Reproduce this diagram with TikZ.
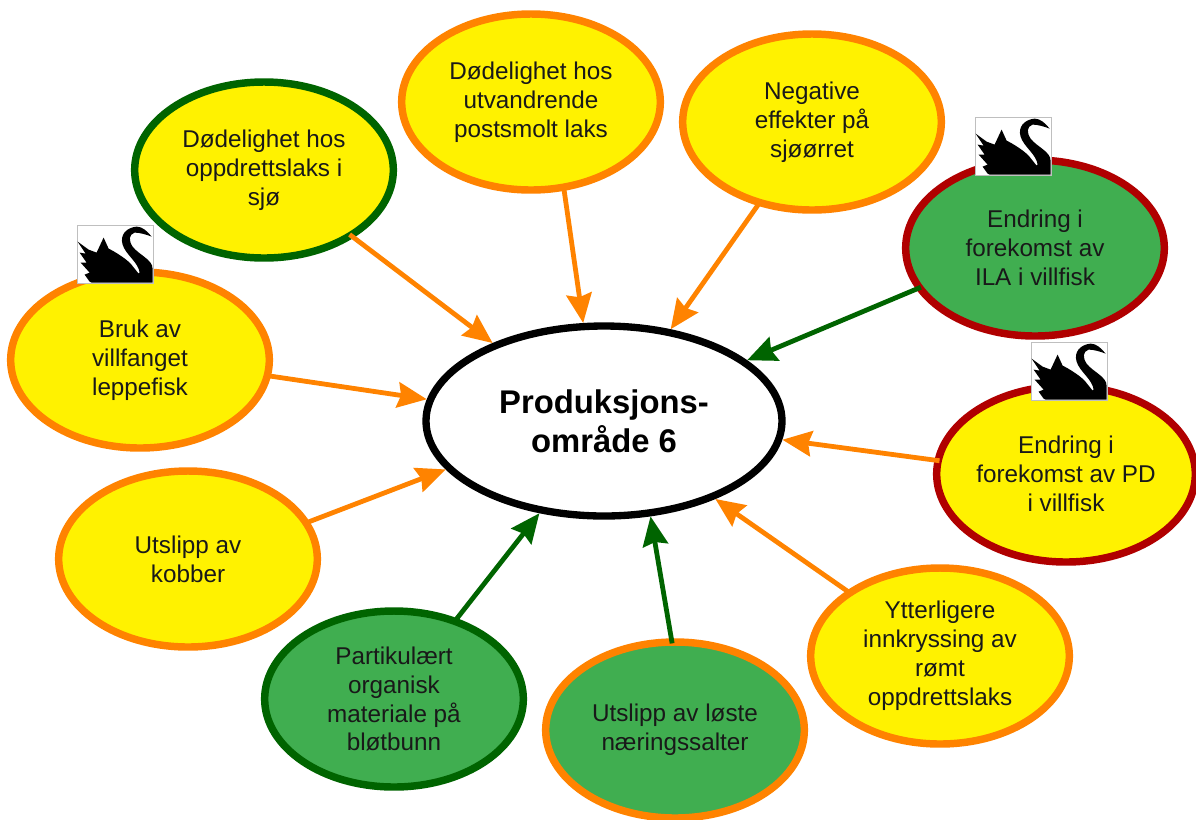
\documentclass[tikz,border=0pt]{standalone}
\usepackage{fontspec}
\setmainfont{Liberation Sans}
\usetikzlibrary{shapes.geometric,arrows.meta}
\definecolor{cyellow}{HTML}{FFF200}
\definecolor{cgreen}{HTML}{40AE50}
\definecolor{corange}{HTML}{FF8300}
\definecolor{cdgreen}{HTML}{006400}
\definecolor{cred}{HTML}{B00000}
\tikzset{
  x=0.75pt,y=-0.75pt,
  topic/.style={ellipse,draw,line width=5.6pt,minimum width=194pt,minimum height=132pt,inner sep=0pt,outer sep=0pt,align=center,font=\fontsize{18.2pt}{21.7pt}\selectfont,text=black!90},
  yel/.style={topic,fill=cyellow},
  grn/.style={topic,fill=cgreen},
  rOrange/.style={draw=corange},
  rGreen/.style={draw=cdgreen},
  rRed/.style={draw=cred},
  link/.style={line width=3.6pt,-{Stealth[length=22pt,width=19pt,inset=2.5pt]},shorten <=-1pt},
  olink/.style={link,corange},
  glink/.style={link,cdgreen},
  swanbox/.style={draw=black!25,line width=0.6pt,fill=white,minimum width=57pt,minimum height=43.5pt,inner sep=0pt},
}
\newcommand{\swan}[1]{%
  \node[swanbox] (#1b) at (#1) {};
  \begin{scope}[shift={(#1b.north west)}]
    \fill[black] (1,17) -- (12,25) -- (20,28) -- (27,13) -- (32,24)
      .. controls (38,27) and (48,33) .. (54,39)
      -- (62,49) -- (63,48)
      .. controls (62,38) and (49,30) .. (46,20)
      .. controls (43,10) and (50,3) .. (60,2)
      .. controls (66,2) and (71,7) .. (75,12)
      .. controls (70,10) and (63,8) .. (58,8)
      .. controls (52,10) and (52,16) .. (56,22)
      .. controls (62,30) and (76,35) .. (76,44)
      -- (76,58) -- (15,58) -- (13,57) -- (8,50) -- (13,48) -- (4,38) -- (10,38) -- (3,28) -- (9,29) -- cycle;
  \end{scope}
}
\begin{document}
\begin{tikzpicture}
\useasboundingbox (0,0) rectangle (1196,819);
\node[ellipse,draw=black,fill=white,line width=5.5pt,minimum width=267pt,minimum height=142.5pt,inner sep=0pt,align=center,font=\bfseries\fontsize{24.6pt}{29.5pt}\selectfont] (c) at (604,421) {Produksjons-\\område 6};
\node[yel,rGreen] (n1) at (264,170) {Dødelighet hos\\oppdrettslaks i\\sjø};
\node[yel,rOrange] (n2) at (531,102) {Dødelighet hos\\utvandrende\\postsmolt laks};
\node[yel,rOrange] (n3) at (812,122) {Negative\\effekter på\\sjøørret};
\node[grn,rRed] (n4) at (1035,248) {Endring i\\forekomst av\\ILA i villfisk};
\node[yel,rRed] (n5) at (1066,474) {Endring i\\forekomst av PD\\i villfisk};
\node[yel,rOrange] (n6) at (940,656) {Ytterligere\\innkryssing av\\rømt\\oppdrettslaks};
\node[grn,rOrange] (n7) at (675,730) {Utslipp av løste\\næringssalter};
\node[grn,rGreen] (n8) at (394,699) {Partikulært\\organisk\\materiale på\\bløtbunn};
\node[yel,rOrange] (n9) at (188,559) {Utslipp av\\kobber};
\node[yel,rOrange] (n10) at (140,360) {Bruk av\\villfanget\\leppefisk};
\draw[olink] (n1.-37) -- (c.145.4);
\draw[olink] (n2.-69.5) -- (c.102.1);
\draw[olink] (n3.-123) -- (c.54.1);
\draw[glink] (n4.199.3) -- (c.23);
\draw[olink] (n5.174.3) -- (c.-6);
\draw[olink] (n6.145.2) -- (c.-35);
\draw[glink] (n7.92.5) -- (c.-64);
\draw[glink] (n8.52.5) -- (c.-125.3);
\draw[olink] (n9.17.7) -- (c.197);
\draw[olink] (n10.-7.7) -- (c.173.3);
\coordinate (s1) at (1013,146);
\coordinate (s2) at (1069,371);
\coordinate (s3) at (115,254);
\swan{s1}
\swan{s2}
\swan{s3}
\end{tikzpicture}
\end{document}
